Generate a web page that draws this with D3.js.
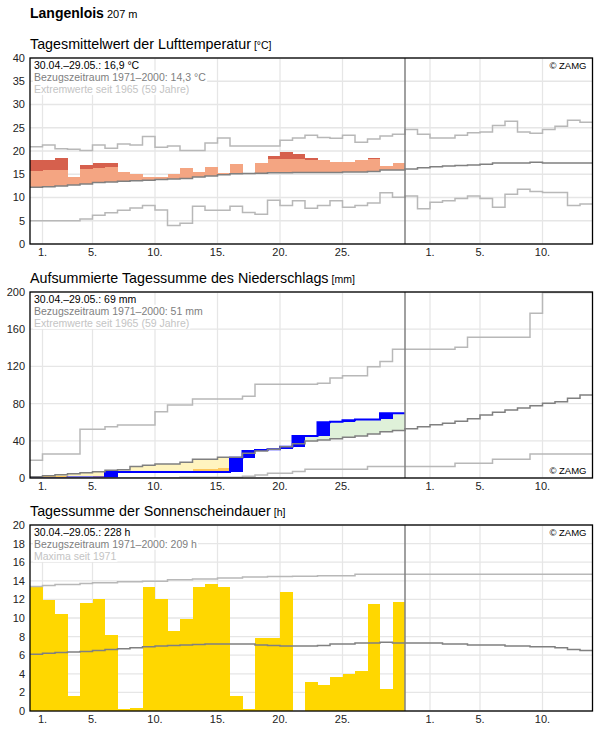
<!DOCTYPE html>
<html>
<head>
<meta charset="utf-8">
<script src="https://cdn.jsdelivr.net/npm/d3@7"></script>
<style>
  body { margin: 0; background: #fff; }
  svg { font-family: "Liberation Sans", Arial, sans-serif; }
  rect.bar { shape-rendering: crispEdges; }
</style>
</head>
<body>
<svg id="root" width="596" height="729"></svg>
<script>
// 45 days shown: 30.04. (index 0) .. 13.06. (index 44); observed up to 29.05. (index 29)
const dayCount = 45;
const obsCount = 30;
const tickDays = [1, 5, 10, 15, 20, 25, 32, 36, 41];
const tickLabels = ['1.', '5.', '10.', '15.', '20.', '25.', '1.', '5.', '10.'];

// Lufttemperatur, Tagesmittel [°C]
const tempObs = [18.1, 18.1, 18.5, 14.4, 17.0, 17.4, 17.4, 15.5, 15.1, 14.4,
  14.4, 15.1, 16.4, 15.5, 16.6, 15.3, 17.2, 15.15, 17.4, 18.95,
  19.8, 19.4, 18.45, 18.0, 17.6, 17.6, 18.0, 18.5, 16.8, 17.4];
// level above which the bar turns dark red (only where visible)
const tempHigh = [15.7, 15.9, 15.9, null, 16.15, 16.4, 16.65, null, null, null,
  null, null, null, null, null, null, null, null, null, 18.3,
  18.3, 18.3, 18.1, null, null, null, null, 18.2, null, null];
const tempMean = [12.2, 12.3, 12.5, 12.7, 12.9, 13.2, 13.35, 13.5, 13.6, 13.7,
  13.85, 14.0, 14.1, 14.4, 14.6, 14.9, 15.1, 15.15, 15.2, 15.3,
  15.3, 15.35, 15.35, 15.4, 15.4, 15.5, 15.5, 15.6, 15.9, 15.9,
  16.15, 16.4, 16.6, 16.8, 16.9, 17.0, 17.15, 17.4, 17.4, 17.4,
  17.6, 17.4, 17.4, 17.4, 17.4];
const tempMax = [20.9, 21.3, 20.5, 20.4, 20.1, 21.3, 20.6, 21.5, 21.3, 23.1,
  20.8, 21.1, 20.1, 20.1, 21.7, 22.8, 21.1, 21.1, 21.1, 21.1,
  22.3, 22.8, 23.4, 22.9, 22.75, 23.4, 21.9, 22.6, 23.2, 23.6,
  24.6, 23.6, 22.8, 22.8, 23.4, 23.9, 24.1, 25.5, 26.4, 24.1,
  23.8, 24.6, 25.3, 26.6, 26.2];
const tempMin = [5.0, 5.0, 5.0, 5.0, 5.4, 6.2, 6.7, 7.25, 7.75, 8.3,
  7.3, 4.0, 4.45, 8.1, 7.25, 7.25, 8.1, 6.8, 6.4, 9.4,
  8.3, 9.3, 7.7, 8.3, 9.3, 7.9, 8.3, 8.8, 11.0, 10.05,
  10.3, 7.6, 9.0, 9.3, 9.8, 10.3, 9.8, 7.9, 10.7, 11.8,
  11.3, 11.05, 11.05, 8.3, 8.6];

// Niederschlag, aufsummiert [mm]
const precObs = [0, 0, 0, 0.5, 0.5, 0.5, 6.5, 6.5, 6.5, 6.5,
  6.5, 6.5, 6.5, 6.5, 6.5, 6.5, 21.9, 29.0, 30.0, 31.0,
  33.6, 45.2, 45.2, 60.0, 60.5, 62.0, 63.0, 63.0, 69.7, 69.7];
// level below which the deficit turns dark yellow (only where visible)
const precLow = [null, 1.8, 1.8, null, null, 2.0, null, null, null, null,
  null, null, null, 9.5, 9.5, 10.5, null, null, null, null,
  null, null, null, null, null, null, null, null, null, null];
const precMean = [1.4, 2.5, 3.6, 4.7, 5.7, 6.8, 8.2, 9.0, 12.5, 13.6,
  15.0, 15.0, 16.9, 20.1, 20.1, 22.2, 22.2, 26.5, 29.0, 30.8,
  33.7, 36.8, 39.8, 40.9, 42.3, 43.7, 45.2, 47.3, 49.8, 51.2,
  53.0, 55.2, 57.3, 59.0, 61.0, 63.8, 67.7, 70.6, 73.1, 75.3,
  77.8, 80.3, 82.1, 85.7, 89.2];
const precMax = [19.0, 25.8, 25.8, 25.8, 52.3, 52.3, 55.2, 57.0, 57.0, 57.0,
  71.3, 78.5, 78.5, 85.0, 85.0, 85.0, 85.0, 87.8, 100.7, 100.7,
  100.7, 100.7, 100.7, 101.8, 107.5, 110.0, 110.0, 119.7, 125.4, 138.4,
  138.4, 138.4, 138.4, 138.4, 140.5, 151.3, 151.3, 151.3, 151.3, 151.3,
  177.1, 199.5, 199.5, 199.5, 199.5];
const precMin = [0, 0, 0, 0, 0, 0, 0, 0, 0, 0,
  0, 0, 0.7, 0.7, 0.7, 0.7, 0.7, 1.8, 3.2, 5.0,
  5.0, 7.0, 9.3, 9.3, 9.3, 9.3, 9.3, 12.4, 12.4, 12.4,
  12.4, 12.4, 12.4, 12.4, 15.8, 15.8, 15.8, 20.1, 20.1, 20.1,
  25.8, 25.8, 25.8, 25.8, 25.8];

// Sonnenscheindauer [h]
const sunObs = [13.3, 11.9, 10.4, 1.6, 11.6, 12.0, 8.2, 0.2, 0.3, 13.3,
  12.0, 8.6, 9.9, 13.3, 13.65, 13.3, 1.6, 0.2, 7.9, 7.9,
  12.8, 0, 3.1, 2.8, 3.65, 4.0, 4.3, 11.5, 2.4, 11.75];
const sunMean = [6.1, 6.2, 6.3, 6.35, 6.4, 6.5, 6.6, 6.7, 6.8, 6.9,
  7.0, 7.05, 7.1, 7.15, 7.2, 7.2, 7.2, 7.2, 7.1, 7.05,
  7.0, 7.0, 7.0, 7.05, 7.2, 7.2, 7.3, 7.3, 7.4, 7.3,
  7.3, 7.3, 7.3, 7.2, 7.2, 7.1, 7.1, 7.1, 7.0, 7.0,
  6.9, 6.9, 6.8, 6.6, 6.5];
const sunMax = [13.4, 13.5, 13.6, 13.6, 13.7, 13.8, 13.8, 13.9, 13.9, 13.95,
  13.95, 14.1, 14.1, 14.2, 14.2, 14.3, 14.3, 14.4, 14.4, 14.45,
  14.45, 14.5, 14.5, 14.55, 14.55, 14.55, 14.7, 14.7, 14.7, 14.7,
  14.7, 14.7, 14.7, 14.7, 14.7, 14.7, 14.7, 14.7, 14.7, 14.7,
  14.7, 14.7, 14.7, 14.7, 14.7];

const colors = {
  grid: '#e6e6e6',
  mean: '#808080',
  extreme: '#b8b8b8',
  warm: '#f4a582',
  hot: '#d6604d',
  cold: '#92c5de',
  wet: '#0000ff',
  wetter: '#dff1d9',
  drier: '#fff4bf',
  driest: '#fcc65a',
  sun: '#ffd700'
};

const left = 30;
const right = 592.5;
const plotHeight = 186;

var svg = d3.select('#root');
var x = d3.scaleLinear().domain([0, dayCount]).range([left, right]);

svg.append('text')
  .attr('x', 30)
  .attr('y', 18)
  .attr('font-size', 14)
  .attr('font-weight', 'bold')
  .text('Langenlois')
  .append('tspan')
  .attr('font-size', 11)
  .attr('font-weight', 'normal')
  .text(' 207 m');

// --- Lufttemperatur ---
var temp = drawPanel({
  id: 'temp',
  top: 58,
  title: 'Tagesmittelwert der Lufttemperatur',
  unit: '[°C]',
  yMax: 40,
  yStep: 5,
  legend: ['30.04.–29.05.: 16,9 °C', 'Bezugszeitraum 1971–2000: 14,3 °C', 'Extremwerte seit 1965 (59 Jahre)'],
  zamgAtBottom: false
});
temp.plot.selectAll('.warm')
  .data(tempObs)
  .enter()
  .append('rect')
  .classed('bar', true)
  .each(function (v, i) {
    var m = tempMean[i];
    var hi = tempHigh[i];
    var sel = d3.select(this);
    if (v >= m) {
      var topWarm = hi !== null && v > hi ? hi : v;
      sel.attr('x', x(i)).attr('width', x(i + 1) - x(i))
        .attr('y', temp.y(topWarm)).attr('height', temp.y(m) - temp.y(topWarm))
        .attr('fill', colors.warm);
    } else {
      sel.attr('x', x(i)).attr('width', x(i + 1) - x(i))
        .attr('y', temp.y(m)).attr('height', temp.y(v) - temp.y(m))
        .attr('fill', colors.cold);
    }
  });
temp.plot.selectAll('.hot')
  .data(tempObs.map((v, i) => ({ i, v, hi: tempHigh[i] })).filter(d => d.hi !== null && d.v > d.hi))
  .enter()
  .append('rect')
  .classed('bar', true)
  .attr('x', d => x(d.i))
  .attr('width', d => x(d.i + 1) - x(d.i))
  .attr('y', d => temp.y(d.v))
  .attr('height', d => temp.y(d.hi) - temp.y(d.v))
  .attr('fill', colors.hot);
stepLine(temp, tempMax, colors.extreme);
stepLine(temp, tempMin, colors.extreme);
stepLine(temp, tempMean, colors.mean);
finishPanel(temp);

// --- Niederschlag ---
var prec = drawPanel({
  id: 'prec',
  top: 292,
  title: 'Aufsummierte Tagessumme des Niederschlags',
  unit: '[mm]',
  yMax: 200,
  yStep: 40,
  legend: ['30.04.–29.05.: 69 mm', 'Bezugszeitraum 1971–2000: 51 mm', 'Extremwerte seit 1965 (59 Jahre)'],
  zamgAtBottom: true
});
prec.plot.selectAll('.diff')
  .data(precObs)
  .enter()
  .append('rect')
  .classed('bar', true)
  .attr('x', (v, i) => x(i))
  .attr('width', (v, i) => x(i + 1) - x(i))
  .attr('y', (v, i) => prec.y(Math.max(v, precMean[i])))
  .attr('height', (v, i) => Math.abs(prec.y(v) - prec.y(precMean[i])))
  .attr('fill', (v, i) => v > precMean[i] ? colors.wetter : colors.drier);
prec.plot.selectAll('.driest')
  .data(precObs.map((v, i) => ({ i, v, lo: precLow[i] })).filter(d => d.lo !== null && d.lo > d.v))
  .enter()
  .append('rect')
  .classed('bar', true)
  .attr('x', d => x(d.i))
  .attr('width', d => x(d.i + 1) - x(d.i))
  .attr('y', d => prec.y(d.lo))
  .attr('height', d => prec.y(d.v) - prec.y(d.lo))
  .attr('fill', colors.driest);
prec.plot.selectAll('.daily')
  .data(precObs)
  .enter()
  .append('rect')
  .classed('bar', true)
  .attr('x', (v, i) => x(i))
  .attr('width', (v, i) => x(i + 1) - x(i))
  .attr('y', v => prec.y(v))
  .attr('height', (v, i) => prec.y(i ? precObs[i - 1] : 0) - prec.y(v))
  .attr('fill', colors.wet);
stepLine(prec, precObs, colors.wet, 2);
stepLine(prec, precMax, colors.extreme);
stepLine(prec, precMin, colors.extreme);
stepLine(prec, precMean, colors.mean);
finishPanel(prec);

// --- Sonnenscheindauer ---
var sun = drawPanel({
  id: 'sun',
  top: 525,
  title: 'Tagessumme der Sonnenscheindauer',
  unit: '[h]',
  yMax: 20,
  yStep: 2,
  legend: ['30.04.–29.05.: 228 h', 'Bezugszeitraum 1971–2000: 209 h', 'Maxima seit 1971'],
  zamgAtBottom: false
});
sun.plot.selectAll('.sunbar')
  .data(sunObs)
  .enter()
  .append('rect')
  .classed('bar', true)
  .attr('x', (v, i) => x(i))
  .attr('width', (v, i) => x(i + 1) - x(i))
  .attr('y', v => sun.y(v))
  .attr('height', v => sun.y(0) - sun.y(v))
  .attr('fill', colors.sun);
stepLine(sun, sunMax, colors.extreme);
stepLine(sun, sunMean, colors.mean);
finishPanel(sun);

function drawPanel({ id, top, title, unit, yMax, yStep, legend, zamgAtBottom }) {
  var bottom = top + plotHeight;
  var y = d3.scaleLinear().domain([0, yMax]).range([bottom, top]);
  var g = svg.append('g').attr('id', id);

  g.append('text')
    .attr('x', 30)
    .attr('y', top - 9.5)
    .attr('font-size', 14.3)
    .attr('fill', '#000')
    .text(title)
    .append('tspan')
    .attr('dx', 3)
    .attr('font-size', 10.5)
    .text(unit);

  g.append('clipPath')
    .attr('id', id + '-clip')
    .append('rect')
    .attr('x', left).attr('y', top)
    .attr('width', right - left).attr('height', plotHeight);

  var yTicks = d3.range(0, yMax + yStep / 2, yStep);
  g.append('g')
    .selectAll('line')
    .data(yTicks)
    .enter()
    .append('line')
    .attr('x1', left).attr('x2', right)
    .attr('y1', d => y(d)).attr('y2', d => y(d))
    .attr('stroke', colors.grid)
    .attr('stroke-width', 1.3);
  g.append('g')
    .selectAll('line')
    .data(tickDays)
    .enter()
    .append('line')
    .attr('x1', d => x(d)).attr('x2', d => x(d))
    .attr('y1', top).attr('y2', bottom)
    .attr('stroke', colors.grid)
    .attr('stroke-width', 1.3);

  g.append('g')
    .selectAll('text')
    .data(yTicks)
    .enter()
    .append('text')
    .attr('x', 25)
    .attr('y', d => y(d))
    .attr('dy', '0.36em')
    .attr('text-anchor', 'end')
    .attr('font-size', 11)
    .attr('fill', '#222')
    .text(d => d);
  g.append('g')
    .selectAll('text')
    .data(tickDays)
    .enter()
    .append('text')
    .attr('x', d => x(d))
    .attr('y', bottom + 12)
    .attr('text-anchor', 'middle')
    .attr('font-size', 11)
    .attr('fill', '#222')
    .text((d, i) => tickLabels[i]);

  var plot = g.append('g').attr('clip-path', 'url(#' + id + '-clip)');
  return { id, g, plot, y, top, bottom, legend, zamgAtBottom };
}

function stepLine(panel, values, color, width) {
  var pts = values.map((v, i) => [i, v]);
  pts.push([values.length, values[values.length - 1]]);
  var line = d3.line()
    .x(d => x(d[0]))
    .y(d => panel.y(d[1]))
    .curve(d3.curveStepAfter);
  panel.plot.append('path')
    .attr('d', line(pts))
    .attr('fill', 'none')
    .attr('stroke', color)
    .attr('stroke-width', width || 1.5);
}

// label with a white box behind it
function boxedText(parent, attrs, label) {
  var bg = parent.append('rect').attr('fill', '#fff');
  var t = parent.append('text');
  Object.keys(attrs).forEach(k => t.attr(k, attrs[k]));
  t.text(label);
  var b = t.node().getBBox();
  bg.attr('x', b.x - 1).attr('y', b.y)
    .attr('width', b.width + 2).attr('height', b.height);
  return t;
}

function finishPanel(panel) {
  var g = panel.g;
  g.append('line')
    .attr('x1', x(obsCount)).attr('x2', x(obsCount))
    .attr('y1', panel.top).attr('y2', panel.bottom)
    .attr('stroke', colors.mean)
    .attr('stroke-width', 1.5);

  var legendColors = ['#000', '#808080', '#c4c4c4'];
  panel.legend.forEach((label, i) => {
    boxedText(g, {
      x: left + 4,
      y: panel.top + 10.5 + i * 12.2,
      'font-size': 10.5,
      fill: legendColors[i]
    }, label);
  });

  boxedText(g, {
    x: right - 6,
    y: panel.zamgAtBottom ? panel.bottom - 4 : panel.top + 11,
    'text-anchor': 'end',
    'font-size': 9.5,
    fill: '#000'
  }, '© ZAMG');

  g.append('rect')
    .attr('x', left).attr('y', panel.top)
    .attr('width', right - left).attr('height', plotHeight)
    .attr('fill', 'none')
    .attr('stroke', '#000')
    .attr('stroke-width', 1.3);
}
</script>
</body>
</html>
